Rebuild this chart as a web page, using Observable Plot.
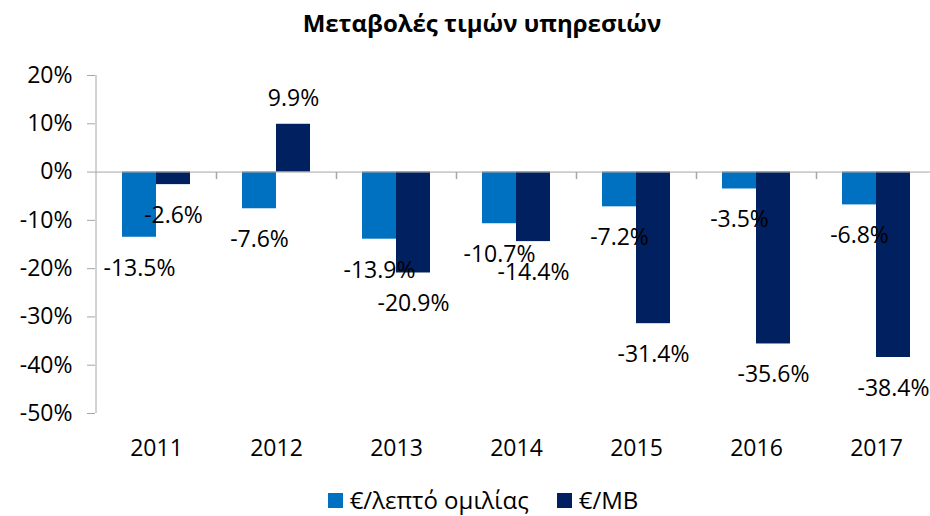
<!DOCTYPE html>
<html>
<head>
<meta charset="utf-8">
<script src="https://cdn.jsdelivr.net/npm/d3@7"></script>
<script src="https://cdn.jsdelivr.net/npm/@observablehq/plot@0.6"></script>
<style>
  html, body { margin: 0; padding: 0; background: #fff; }
  body { width: 930px; height: 516px; overflow: hidden; font-family: "Open Sans", sans-serif; }
  #title { height: 52px; line-height: 46px; text-align: center; font-weight: bold; font-size: 24px; color: #000; padding-left: 34px; box-sizing: border-box; }
  #chart svg { display: block; }
  #legend { height: 34px; padding-top: 2px; display: flex; justify-content: center; align-items: center; font-size: 24px; line-height: 1; color: #000; padding-left: 36px; box-sizing: border-box; }
  .item { display: flex; align-items: center; margin: 0 14px; white-space: nowrap; }
  .sw { width: 15px; height: 15px; margin-right: 7px; }
</style>
</head>
<body>
<div id="title">Μεταβολές τιμών υπηρεσιών</div>
<div id="chart"></div>
<div id="legend"></div>
<script>
const years = ["2011", "2012", "2013", "2014", "2015", "2016", "2017"];
const seriesNames = ["€/λεπτό ομιλίας", "€/MB"];
const voiceValues = [-13.5, -7.6, -13.9, -10.7, -7.2, -3.5, -6.8];
const dataValues = [-2.6, 9.9, -20.9, -14.4, -31.4, -35.6, -38.4];
const yTicks = [20, 10, 0, -10, -20, -30, -40, -50];
const colors = ["#0070C0", "#002060"];

const voice = years.map((y, i) => ({year: y, value: voiceValues[i]}));
const mb = years.map((y, i) => ({year: y, value: dataValues[i]}));
const fmt = v => v.toFixed(1) + "%";
const font = "Open Sans";
const fs = 23;
const axisGray = "#a6a6a6";

const labelMarks = (data, dx) => [
  Plot.text(data.filter(d => d.value < 0), {x: "year", y: "value", text: d => fmt(d.value), dx, dy: 31, fontSize: fs, fill: "#000"}),
  Plot.text(data.filter(d => d.value >= 0), {x: "year", y: "value", text: d => fmt(d.value), dx, dy: -26, fontSize: fs, fill: "#000"})
];

// short downward tick symbol for category boundaries
const downTick = {draw(ctx, size) { ctx.moveTo(0, 0); ctx.lineTo(0, 7); }};

const chart = Plot.plot({
  width: 930,
  height: 430,
  marginTop: 23,
  marginBottom: 69,
  marginLeft: 95,
  marginRight: 0,
  style: {fontFamily: font, fontSize: fs + "px", color: "#000", background: "#fff"},
  x: {domain: years, range: [96, 936], padding: 0, label: null},
  y: {domain: [-50, 20], label: null},
  marks: [
    Plot.axisY({ticks: yTicks, tickFormat: d => d + "%", tickSize: 8, tickPadding: 15, stroke: axisGray, fill: "#000", fontSize: fs, label: null}),
    Plot.ruleX([years[0]], {x: d => d, dx: -60.5, stroke: axisGray}),
    Plot.axisX({tickSize: 0, tickPadding: 26, fill: "#000", fontSize: fs, label: null}),
    Plot.barY(voice, {x: "year", y: "value", fill: colors[0], insetLeft: 26, insetRight: 60}),
    Plot.barY(mb, {x: "year", y: "value", fill: colors[1], insetLeft: 60, insetRight: 26}),
    Plot.ruleY([0], {stroke: axisGray}),
    Plot.dot(years.slice(1), {x: d => d, y: 0, dx: -60, symbol: downTick, stroke: axisGray, fill: "none", r: 4}),
    ...labelMarks(voice, -17),
    ...labelMarks(mb, 17)
  ]
});
document.getElementById("chart").appendChild(chart);

const legend = document.getElementById("legend");
seriesNames.forEach((name, i) => {
  const item = document.createElement("div");
  item.className = "item";
  const sw = document.createElement("span");
  sw.className = "sw";
  sw.style.background = colors[i];
  const t = document.createElement("span");
  t.textContent = name;
  item.appendChild(sw);
  item.appendChild(t);
  legend.appendChild(item);
});
</script>
</body>
</html>
